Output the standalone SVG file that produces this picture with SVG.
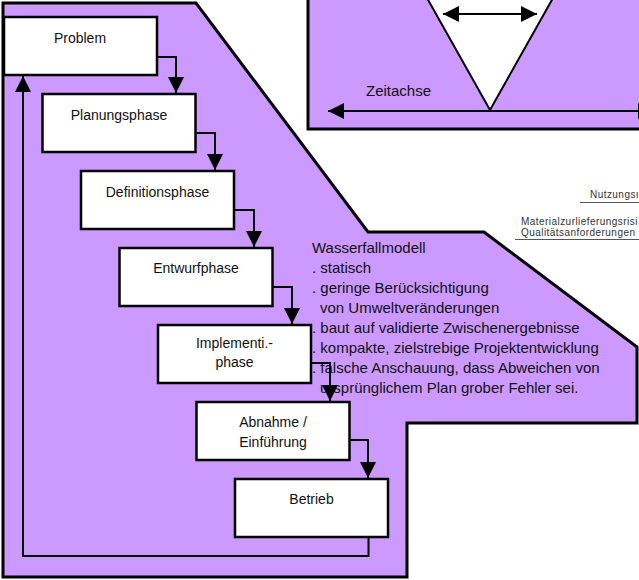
<svg xmlns="http://www.w3.org/2000/svg" width="639" height="580" viewBox="0 0 639 580">
  <defs>
    <marker id="arrow" viewBox="0 0 16 16" refX="16" refY="8" markerWidth="16" markerHeight="16" markerUnits="userSpaceOnUse" orient="auto-start-reverse">
      <path d="M0,0 L16,8 L0,16 Z" fill="#000"/>
    </marker>
    <style>
      .panel { fill: #cc99ff; stroke: #000; stroke-width: 3; stroke-linejoin: miter; }
      .box { fill: #fff; stroke: #000; stroke-width: 2.5; }
      .label { font-family: "Liberation Sans", Arial, sans-serif; font-size: 14px; fill: #111; text-anchor: middle; }
      .note { font-family: "Liberation Sans", Arial, sans-serif; font-size: 15px; fill: #111; }
      .small { font-family: "Liberation Sans", Arial, sans-serif; font-size: 10px; letter-spacing: 0.45px; fill: #333; }
      .conn { fill: none; stroke: #000; stroke-width: 2; }
      .thin { fill: none; stroke: #555; stroke-width: 1; }
    </style>
  </defs>

  <rect width="639" height="580" fill="#fff"/>

  <!-- time-axis panel, top right -->
  <g id="zeitachse-panel">
    <rect class="panel" x="308" y="-10" width="345" height="139" stroke-width="2.5"/>
    <path d="M427,-2 L490,110 L553,-2 Z" fill="#fff" stroke="#000" stroke-width="2"/>
    <line x1="443" y1="14" x2="537" y2="14" stroke="#000" stroke-width="2" marker-start="url(#arrow)" marker-end="url(#arrow)"/>
    <line x1="328" y1="111" x2="654" y2="111" stroke="#000" stroke-width="2" marker-start="url(#arrow)" marker-end="url(#arrow)"/>
    <text class="note" x="366" y="96" font-size="14">Zeitachse</text>
  </g>

  <!-- side labels, right -->
  <g id="risk-labels">
    <text class="small" x="590" y="198" letter-spacing="0.2">Nutzungsı</text>
    <line class="thin" x1="580" y1="202.5" x2="639" y2="202.5"/>
    <text class="small" x="521" y="225">Materialzurlieferungsrisi</text>
    <text class="small" x="521" y="236">Qualitätsanforderungen</text>
    <line class="thin" x1="515" y1="239.5" x2="639" y2="239.5"/>
  </g>

  <!-- waterfall backdrop -->
  <g id="wasserfall-panel">
    <path class="panel" d="M3,3 L196,3 L368,232 L484,232 L637,347 L637,423 L407,423 L407,577 L3,577 Z"/>
  </g>

  <!-- description -->
  <g id="beschreibung">
    <text class="note" x="312" y="253">Wasserfallmodell</text>
    <text class="note" x="312" y="273">. statisch</text>
    <text class="note" x="312" y="293">. geringe Berücksichtigung</text>
    <text class="note" x="320" y="313">von Umweltveränderungen</text>
    <text class="note" x="312" y="333">. baut auf validierte Zwischenergebnisse</text>
    <text class="note" x="312" y="353">. kompakte, zielstrebige Projektentwicklung</text>
    <text class="note" x="312" y="373">. falsche Anschauung, dass Abweichen von</text>
    <text class="note" x="320" y="393">ursprünglichem Plan grober Fehler sei.</text>
  </g>

  <!-- phases -->
  <g id="problem">
    <rect class="box" x="4" y="17" width="153" height="58"/>
    <text class="label" x="80" y="43">Problem</text>
  </g>
  <g id="planungsphase">
    <rect class="box" x="42.5" y="94" width="153" height="58"/>
    <text class="label" x="119" y="120">Planungsphase</text>
  </g>
  <g id="definitionsphase">
    <rect class="box" x="81" y="171" width="153" height="58"/>
    <text class="label" x="157.5" y="197">Definitionsphase</text>
  </g>
  <g id="entwurfphase">
    <rect class="box" x="119.5" y="248" width="153" height="58"/>
    <text class="label" x="196" y="273">Entwurfphase</text>
  </g>
  <g id="implementiphase">
    <rect class="box" x="158" y="325" width="153" height="58"/>
    <text class="label" x="234.5" y="348">Implementi.-</text>
    <text class="label" x="234.5" y="367">phase</text>
  </g>
  <g id="abnahme">
    <rect class="box" x="196.5" y="402" width="153" height="58"/>
    <text class="label" x="273" y="427">Abnahme /</text>
    <text class="label" x="273" y="447">Einführung</text>
  </g>
  <g id="betrieb">
    <rect class="box" x="235" y="479" width="153" height="58"/>
    <text class="label" x="311.5" y="504">Betrieb</text>
  </g>

  <!-- connectors -->
  <g id="connectors">
    <path class="conn" d="M157,57 H176 V93" marker-end="url(#arrow)"/>
    <path class="conn" d="M195.5,133 H215 V170" marker-end="url(#arrow)"/>
    <path class="conn" d="M234,210 H254 V247" marker-end="url(#arrow)"/>
    <path class="conn" d="M272.5,287 H292 V324" marker-end="url(#arrow)"/>
    <path class="conn" d="M311,363 H330 V401" marker-end="url(#arrow)"/>
    <path class="conn" d="M349.5,440 H368 V478" marker-end="url(#arrow)"/>
    <path class="conn" d="M368.5,537 V556 H23 V76" marker-end="url(#arrow)"/>
  </g>
</svg>
